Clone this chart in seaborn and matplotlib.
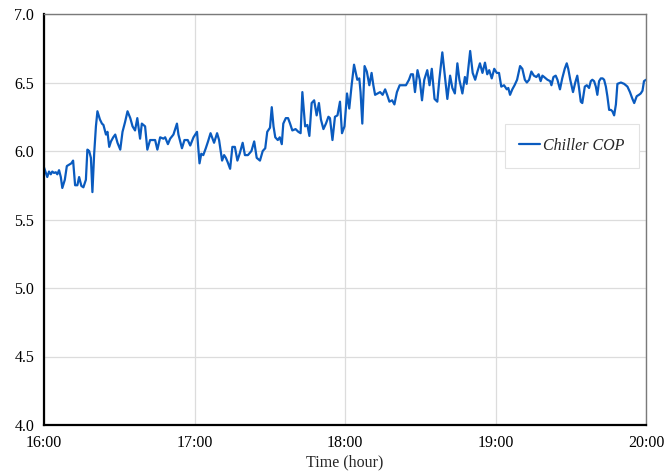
import matplotlib
matplotlib.use("Agg")
import matplotlib.pyplot as plt
import seaborn as sns
import pandas as pd

# minutes after 16:00
minutes = [0, 1.3, 2, 2.7, 3.3, 4, 4.7, 5.3, 6, 6.7, 7.3, 8.3, 9.1, 10, 10.9, 11.6, 12.4, 13.3, 14, 14.9,
           15.7, 16.7, 17.3, 18, 18.7, 19.3, 20, 20.7, 21.3, 22.3, 23.1, 23.7, 24.7, 25.3, 26, 26.7, 27.6, 28.4, 29.3, 30.4,
           31.3, 32.3, 33.3, 34.4, 35.3, 36.3, 37.2, 38.3, 39, 40.3, 41.2, 42.3, 43.6, 44.3, 45.2, 46.3, 47.6, 48.3, 49.4, 50.3,
           51.6, 53, 53.6, 55, 56, 57.3, 58.3, 59.6, 61, 62, 62.7, 63.5, 64.5, 65.4, 66.4, 67.8, 69, 69.8, 71, 71.8,
           72.5, 73.2, 74.2, 75.1, 76.1, 77.1, 78, 79.2, 80.1, 81.3, 82.7, 83.8, 84.8, 86.1, 87.2, 88.2, 89, 90.1, 90.8, 91.5,
           92.2, 93.2, 94, 94.8, 95.4, 96.4, 97.3, 98.1, 99, 100.3, 101.4, 102.3, 103, 104.1, 105, 105.8, 106.7, 107.7, 108.7, 109.6,
           110.4, 111.4, 112.4, 113.4, 114, 115, 116, 117, 118, 118.8, 119.8, 120.8, 121.7, 122.7, 123.6, 124.3, 124.9, 125.7, 126.2, 126.9,
           127.8, 128.7, 129.7, 130.6, 131.3, 132, 133, 134, 135, 136, 136.8, 137.7, 138.8, 139.7, 140.7, 141.8, 143, 144.3, 145.5, 146.3,
           147.1, 147.9, 148.9, 149.8, 150.7, 151.6, 152.8, 153.7, 154.6, 155.7, 156.8, 157.6, 158.8, 159.8, 160.8, 161.9, 162.8, 163.8, 164.8, 165.6,
           166.8, 167.8, 168.5, 169.9, 170.9, 171.9, 172.8, 173.8, 174.8, 175.8, 176.7, 177.5, 178.5, 179.5, 180.5, 181.4, 182.3, 183.4, 184.5, 185.1,
           185.8, 186.7, 187.6, 188.6, 189.8, 190.7, 191.7, 192.5, 193.4, 194.3, 195.3, 196.3, 197.2, 198, 198.7, 199.4, 200.7, 201.8, 202.3, 203.1,
           204, 204.7, 205.7, 206.6, 207.6, 208.4, 209, 209.8, 210.9, 211.8, 212.6, 213.3, 214, 214.6, 215.6, 216.4, 217.3, 218, 218.6, 219.3,
           220, 220.6, 221.3, 222, 222.7, 223.3, 224, 224.6, 225.3, 226, 226.6, 227.3, 228, 228.6, 230, 231.3, 232.6, 233.6, 234.6, 235.3,
           236.3, 237.2, 237.9, 238.6, 239.2, 240]

cop = [5.88, 5.81, 5.85, 5.83, 5.85, 5.84, 5.845, 5.83, 5.86, 5.81, 5.73, 5.79, 5.89, 5.90, 5.91, 5.93, 5.75, 5.75, 5.81, 5.745,
       5.735, 5.79, 6.01, 6.00, 5.95, 5.70, 5.98, 6.18, 6.29, 6.23, 6.20, 6.19, 6.12, 6.14, 6.03, 6.07, 6.10, 6.12, 6.06, 6.01,
       6.14, 6.21, 6.29, 6.24, 6.18, 6.15, 6.24, 6.09, 6.20, 6.18, 6.01, 6.08, 6.08, 6.08, 6.01, 6.10, 6.09, 6.10, 6.05, 6.09,
       6.12, 6.20, 6.12, 6.02, 6.08, 6.08, 6.04, 6.10, 6.14, 5.91, 5.98, 5.97, 6.02, 6.07, 6.13, 6.06, 6.13, 6.08, 5.93, 5.97,
       5.95, 5.92, 5.87, 6.03, 6.03, 5.93, 5.98, 6.06, 5.97, 5.97, 6.00, 6.07, 5.95, 5.93, 6.00, 6.02, 6.14, 6.17, 6.32, 6.18,
       6.10, 6.08, 6.10, 6.05, 6.20, 6.24, 6.24, 6.20, 6.15, 6.16, 6.14, 6.13, 6.43, 6.18, 6.19, 6.11, 6.35, 6.37, 6.26, 6.35,
       6.23, 6.16, 6.20, 6.25, 6.24, 6.08, 6.25, 6.26, 6.36, 6.13, 6.18, 6.42, 6.31, 6.49, 6.63, 6.57, 6.52, 6.53, 6.43, 6.20,
       6.62, 6.58, 6.48, 6.57, 6.48, 6.41, 6.42, 6.43, 6.41, 6.45, 6.41, 6.36, 6.37, 6.34, 6.43, 6.48, 6.48, 6.48, 6.52, 6.56,
       6.56, 6.43, 6.59, 6.52, 6.37, 6.52, 6.59, 6.48, 6.60, 6.38, 6.36, 6.52, 6.72, 6.55, 6.38, 6.55, 6.46, 6.42, 6.64, 6.52,
       6.42, 6.54, 6.49, 6.73, 6.57, 6.52, 6.58, 6.64, 6.57, 6.645, 6.56, 6.59, 6.53, 6.60, 6.57, 6.57, 6.47, 6.48, 6.45, 6.46,
       6.41, 6.45, 6.48, 6.52, 6.62, 6.60, 6.52, 6.50, 6.52, 6.58, 6.55, 6.54, 6.56, 6.51, 6.55, 6.54, 6.52, 6.51, 6.48, 6.54,
       6.55, 6.52, 6.45, 6.53, 6.60, 6.64, 6.60, 6.52, 6.43, 6.50, 6.55, 6.46, 6.36, 6.35, 6.47, 6.48, 6.46, 6.51, 6.52, 6.51,
       6.47, 6.41, 6.51, 6.53, 6.53, 6.52, 6.47, 6.40, 6.30, 6.30, 6.29, 6.26, 6.34, 6.49, 6.50, 6.49, 6.47, 6.43, 6.38, 6.35,
       6.40, 6.41, 6.42, 6.44, 6.51, 6.52]

x_ticks = [0, 60, 120, 180, 240]
x_tick_labels = ["16:00", "17:00", "18:00", "19:00", "20:00"]
y_ticks = [4.0, 4.5, 5.0, 5.5, 6.0, 6.5, 7.0]
series_name = "Chiller COP"

df = pd.DataFrame({"minute": minutes, "COP": cop})

sns.set_style("white")
plt.rcParams["font.family"] = ["Liberation Serif", "DejaVu Serif"]

fig = plt.figure(figsize=(6.64, 4.74), dpi=100)
ax = fig.add_axes([44 / 664, 1 - 425 / 474, (646 - 44) / 664, (425 - 14) / 474])

sns.lineplot(data=df, x="minute", y="COP", ax=ax, color="#0a5bbf", linewidth=1.6,
             label=series_name, estimator=None, sort=False)

ax.set_xlim(0, 240)
ax.set_ylim(4.0, 7.0)
ax.set_xticks(x_ticks)
ax.set_xticklabels(x_tick_labels)
ax.set_yticks(y_ticks)
ax.set_yticklabels([f"{v:.1f}" for v in y_ticks])
ax.grid(True, color="#dcdcdc", linewidth=0.9)
ax.set_axisbelow(True)

for side in ["left", "bottom"]:
    ax.spines[side].set_color("black")
    ax.spines[side].set_linewidth(1.6)
for side in ["top", "right"]:
    ax.spines[side].set_color("#7a7a7a")
    ax.spines[side].set_linewidth(1.0)

ax.tick_params(axis="both", direction="out", length=4, width=1.2, labelsize=11.5,
               colors="black", pad=3)
ax.tick_params(axis="x", pad=3)
ax.set_xlabel("Time (hour)", fontsize=11.5, labelpad=3)
ax.set_ylabel("")

leg = ax.legend(loc="center", bbox_to_anchor=(0.877, 0.679), frameon=True, fancybox=False,
                edgecolor="#e2e2e2", framealpha=1, handlelength=1.3, handletextpad=0.2,
                borderpad=0.9, prop={"style": "italic", "size": 11.5})
leg.get_frame().set_linewidth(0.8)

fig.savefig("out.png", dpi=100)
